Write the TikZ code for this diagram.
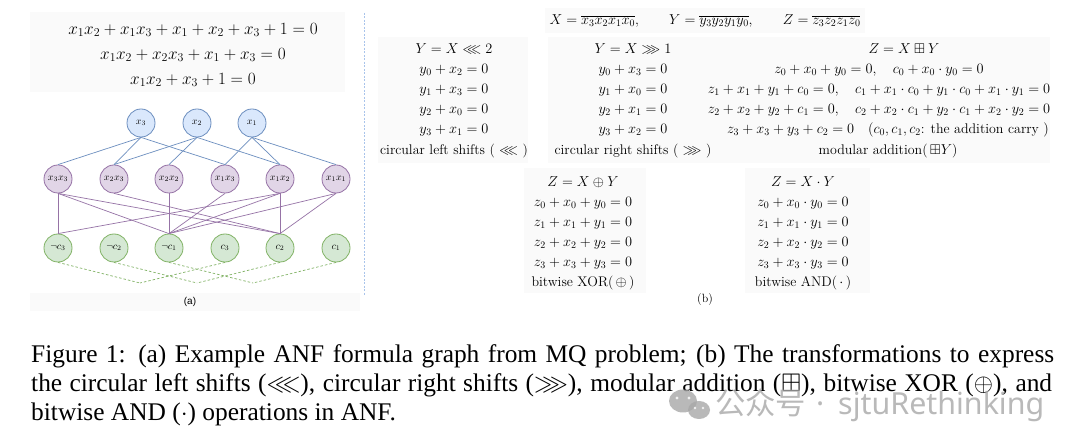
\documentclass[tikz,border=0pt]{standalone}
\usepackage{amsmath,amssymb}
\usepackage{fontspec}
\newfontfamily\capfont{Liberation Serif}
\newfontfamily\sansf{Liberation Sans}
\newfontfamily\cjk{Noto Sans CJK SC}
\newfontfamily\wmfont{Noto Sans}
\definecolor{bluefill}{HTML}{DAE8FC}
\definecolor{bluedraw}{HTML}{6C8EBF}
\definecolor{purpfill}{HTML}{E1D5E7}
\definecolor{purpdraw}{HTML}{9673A6}
\definecolor{greenfill}{HTML}{D5E8D4}
\definecolor{greendraw}{HTML}{82B366}
\definecolor{sepblue}{HTML}{A9C4EB}
\definecolor{boxbg}{HTML}{FAFAFA}
\definecolor{wmgray}{HTML}{A8A8A8}
\tikzset{
  gnode/.style={circle, minimum size=28bp, inner sep=0pt, line width=0.8bp, font=\fontsize{10}{12}\selectfont},
  topn/.style={gnode, fill=bluefill, draw=bluedraw},
  midn/.style={gnode, fill=purpfill, draw=purpdraw},
  botn/.style={gnode, fill=greenfill, draw=greendraw},
  bedge/.style={draw=bluedraw, line width=0.7bp},
  pedge/.style={draw=purpdraw, line width=0.7bp},
  gedge/.style={draw=greendraw, line width=0.7bp, dash pattern=on 2.5bp off 2bp},
  eqL/.style={inner sep=0pt, font=\fontsize{17.5}{20}\selectfont},
  eq/.style={inner sep=0pt, font=\fontsize{14}{16}\selectfont},
  capline/.style={inner sep=0pt, anchor=base west, font=\capfont\fontsize{25.5}{30}\selectfont},
  bgbox/.style={fill=boxbg, draw=none},
  wmtext/.style={inner sep=0pt, anchor=base west, text=wmgray},
}
\begin{document}
\begin{tikzpicture}[x=1bp, y=-1bp]
\useasboundingbox (0,0) rectangle (1080,446);
\fill[white] (0,0) rectangle (1080,446);
% faint background boxes
\path[bgbox] (30,12) rectangle (345,92);
\path[bgbox] (30,293) rectangle (360,311);
\path[bgbox] (545,8) rectangle (865,33);
\path[bgbox] (378,37) rectangle (528,163);
\path[bgbox] (548,37) rectangle (712,163);
\path[bgbox] (710,37) rectangle (1050,163);
\path[bgbox] (524,168) rectangle (646,293);
\path[bgbox] (745,168) rectangle (870,293);

% left equations
\node[eqL] (e1) at (193,30) {$x_1x_2+x_1x_3+x_1+x_2+x_3+1=0$};
\node[eqL] (e2) at (193,55) {$x_1x_2+x_2x_3+x_1+x_3=0$};
\node[eqL] (e3) at (193,80) {$x_1x_2+x_3+1=0$};

% graph nodes
\node[topn] (x3) at (141,123) {$x_3$};
\node[topn] (x2) at (197,123) {$x_2$};
\node[topn] (x1) at (252,123) {$x_1$};
\node[midn] (m33) at (58,179) {$x_3x_3$};
\node[midn] (m23) at (114,179) {$x_2x_3$};
\node[midn] (m22) at (169,179) {$x_2x_2$};
\node[midn] (m13) at (225,179) {$x_1x_3$};
\node[midn] (m12) at (280,179) {$x_1x_2$};
\node[midn] (m11) at (336,179) {$x_1x_1$};
\node[botn] (nc3) at (58,248) {$\neg c_3$};
\node[botn] (nc2) at (114,248) {$\neg c_2$};
\node[botn] (nc1) at (169,248) {$\neg c_1$};
\node[botn] (c3) at (225,248) {$c_3$};
\node[botn] (c2) at (280,248) {$c_2$};
\node[botn] (c1) at (336,248) {$c_1$};
\coordinate (d3) at (140,283);
\coordinate (d2) at (197,283);
\coordinate (d1) at (253,283);

\foreach \a/\b in {x3/m33,x3/m23,x3/m13,x2/m23,x2/m22,x2/m12,x1/m13,x1/m12,x1/m11}
  \draw[bedge] (\a.south) -- (\b.north);
\foreach \a/\b in {m33/nc3,m33/nc1,m33/c2,m23/c2,m22/nc1,m13/nc1,m12/nc3,m12/nc1,m12/c2,m11/nc1,m11/c2}
  \draw[pedge] (\a.south) -- (\b.north);
\foreach \a/\b in {nc3/d3,c3/d3,nc2/d2,c2/d2,nc1/d1,c1/d1}
  \draw[gedge] (\a.south) -- (\b);

\node[inner sep=0pt, font=\sansf\fontsize{10}{12}\selectfont] (capa) at (190,302) {(a)};

% separator
\coordinate (s1) at (364,13);
\coordinate (s2) at (364,295);
\draw[sepblue, line width=0.9bp, dash pattern=on 2bp off 1.5bp] (s1) -- (s2);

% right panel top line
\node[eq] (top) at (705,21) {$X=\overline{x_3x_2x_1x_0},\qquad Y=\overline{y_3y_2y_1y_0},\qquad Z=\overline{z_3z_2z_1z_0}$};

% block 1
\node[eq] (b1t) at (454,49) {$Y=X\lll 2$};
\node[eq] (b1a) at (454,70) {$y_0+x_2=0$};
\node[eq] (b1b) at (454,90) {$y_1+x_3=0$};
\node[eq] (b1c) at (454,110) {$y_2+x_0=0$};
\node[eq] (b1d) at (454,130) {$y_3+x_1=0$};
\node[eq] (b1l) at (454,151) {circular left shifts ( $\lll$ )};

% block 2
\node[eq] (b2t) at (633,49) {$Y=X\ggg 1$};
\node[eq] (b2a) at (633,70) {$y_0+x_3=0$};
\node[eq] (b2b) at (633,90) {$y_1+x_0=0$};
\node[eq] (b2c) at (633,110) {$y_2+x_1=0$};
\node[eq] (b2d) at (633,130) {$y_3+x_2=0$};
\node[eq] (b2l) at (633,151) {circular right shifts ( $\ggg$ )};

% block 3
\node[eq] (b3t) at (904,49) {$Z=X\boxplus Y$};
\node[eq] (b3a) at (879,70) {$z_0+x_0+y_0=0,\quad c_0+x_0\cdot y_0=0$};
\node[eq] (b3b) at (879,90) {$z_1+x_1+y_1+c_0=0,\quad c_1+x_1\cdot c_0+y_1\cdot c_0+x_1\cdot y_1=0$};
\node[eq] (b3c) at (879,110) {$z_2+x_2+y_2+c_1=0,\quad c_2+x_2\cdot c_1+y_2\cdot c_1+x_2\cdot y_2=0$};
\node[eq] (b3d) at (888,130) {$z_3+x_3+y_3+c_2=0\quad (c_0,c_1,c_2\text{: the addition carry })$};
\node[eq] (b3l) at (888,151) {modular addition(\,$\boxplus Y$)};

% block 4
\node[eq] (b4t) at (583,182) {$Z=X\oplus Y$};
\node[eq] (b4a) at (583,203) {$z_0+x_0+y_0=0$};
\node[eq] (b4b) at (583,223) {$z_1+x_1+y_1=0$};
\node[eq] (b4c) at (583,243) {$z_2+x_2+y_2=0$};
\node[eq] (b4d) at (583,263) {$z_3+x_3+y_3=0$};
\node[eq] (b4l) at (583,283) {bitwise XOR(\,$\oplus$\,)};

% block 5
\node[eq] (b5t) at (803,182) {$Z=X\cdot Y$};
\node[eq] (b5a) at (803,203) {$z_0+x_0\cdot y_0=0$};
\node[eq] (b5b) at (803,223) {$z_1+x_1\cdot y_1=0$};
\node[eq] (b5c) at (803,243) {$z_2+x_2\cdot y_2=0$};
\node[eq] (b5d) at (803,263) {$z_3+x_3\cdot y_3=0$};
\node[eq] (b5l) at (803,283) {bitwise AND(\,$\cdot$\,)};

\node[inner sep=0pt, font=\fontsize{12}{14}\selectfont] (capb) at (705,300) {(b)};

% caption
\node[capline] (cap1) at (31,363) {\makebox[1023bp][s]{Figure 1: (a) Example ANF formula graph from MQ problem; (b) The transformations to express}};
\node[capline] (cap2) at (31,392) {\makebox[1021bp][s]{the circular left shifts ($\lll$), circular right shifts ($\ggg$), modular addition ($\boxplus$), bitwise XOR ($\oplus$), and}};
\node[capline] (cap3) at (31,421) {bitwise AND ($\cdot$) operations in ANF.};

% watermark
\begin{scope}[opacity=0.8]
\fill[wmgray] (683,401) ellipse (14bp and 11.5bp);
\fill[white] (677,398) circle (1.6bp) (689,398) circle (1.6bp);
\fill[wmgray] (699,410) ellipse (11bp and 9bp);
\fill[white] (695,408) circle (1.3bp) (703,408) circle (1.3bp);
\node[wmtext, font=\cjk\fontsize{30.5}{34}\selectfont] (wm1) at (715,415) {公众号};
\node[wmtext, font=\wmfont\fontsize{30.5}{34}\selectfont] (wm2) at (816,415) {·};
\node[wmtext, font=\wmfont\fontsize{30.5}{34}\selectfont] (wm3) at (838,415) {sjtuRethinking};
\end{scope}
\end{tikzpicture}
\end{document}
